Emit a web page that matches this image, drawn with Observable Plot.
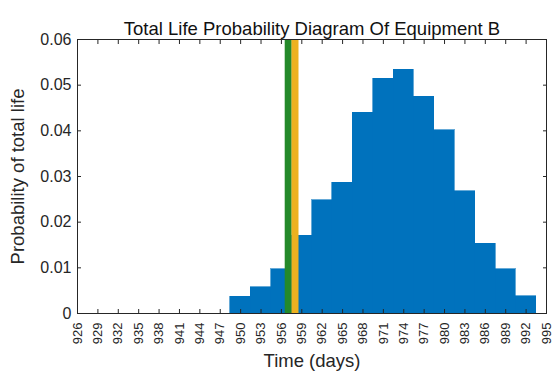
<!DOCTYPE html>
<html>
<head>
<meta charset="utf-8">
<script src="https://cdn.jsdelivr.net/npm/d3@7"></script>
<script src="https://cdn.jsdelivr.net/npm/@observablehq/plot@0.6"></script>
<style>
  html, body { margin: 0; padding: 0; background: #fff; }
  #chart svg { display: block; }
</style>
</head>
<body>
<div id="chart"></div>
<script>
const titleText = "Total Life Probability Diagram Of Equipment B";
const xLabel = "Time (days)";
const yLabel = "Probability of total life";
const binCenters = [950, 953, 956, 959, 962, 965, 968, 971, 974, 977, 980, 983, 986, 989, 992];
const probs = [0.0037, 0.0058, 0.0097, 0.0170, 0.0248, 0.0286, 0.0440, 0.0514, 0.0534, 0.0475, 0.0401, 0.0268, 0.0153, 0.0097, 0.0038];
const binWidth = 3;
const xTicks = d3.range(926, 996, 3);
const yTicks = [0, 0.01, 0.02, 0.03, 0.04, 0.05, 0.06];
const markerLines = [
  {x: 957, color: "#24892a"},
  {x: 958, color: "#edb120"}
];

const bars = binCenters.map((c, i) => ({x1: c - binWidth / 2, x2: c + binWidth / 2, p: probs[i]}));
const font = "'Liberation Sans', Arial, Helvetica, sans-serif";
const ink = "#262626";

const chart = Plot.plot({
  width: 556,
  height: 376,
  marginLeft: 77,
  marginRight: 10,
  marginTop: 39,
  marginBottom: 63,
  style: {fontFamily: font, fontSize: "14px", color: ink, background: "#fff"},
  x: {domain: [926, 995]},
  y: {domain: [0, 0.06]},
  marks: [
    Plot.rectY(bars, {x1: "x1", x2: "x2", y: "p", fill: "#0072bd", stroke: "#0072bd", strokeWidth: 0.6, shapeRendering: "crispEdges"}),
    Plot.ruleX(markerLines, {x: "x", y1: 0, y2: 0.06, stroke: "color", strokeWidth: 7}),
    Plot.axisX({anchor: "bottom", ticks: xTicks, tickSize: -4, tickPadding: 13, tickRotate: -90, tickFormat: d => String(d), fontSize: 13, label: null, stroke: ink}),
    Plot.axisX({anchor: "top", ticks: xTicks, tickSize: -4, tickFormat: () => "", label: null, stroke: ink}),
    Plot.axisY({anchor: "left", ticks: yTicks, tickSize: -4, tickPadding: 10, tickFormat: d => d === 0 ? "0" : d.toFixed(2), fontSize: 16, label: null, stroke: ink}),
    Plot.axisY({anchor: "right", ticks: yTicks, tickSize: -4, tickFormat: () => "", label: null, stroke: ink}),
    Plot.frame({stroke: ink}),
    Plot.text([xLabel], {text: d => d, frameAnchor: "bottom", dy: 53, fontSize: 18.5, fill: ink}),
    Plot.text([yLabel], {text: d => d, frameAnchor: "left", textAnchor: "middle", dx: -59, rotate: -90, fontSize: 18.5, fill: ink}),
    Plot.text([titleText], {text: d => d, frameAnchor: "top", dy: -18, fontSize: 18.5, fill: "#111"})
  ]
});
document.getElementById("chart").appendChild(chart);
</script>
</body>
</html>
